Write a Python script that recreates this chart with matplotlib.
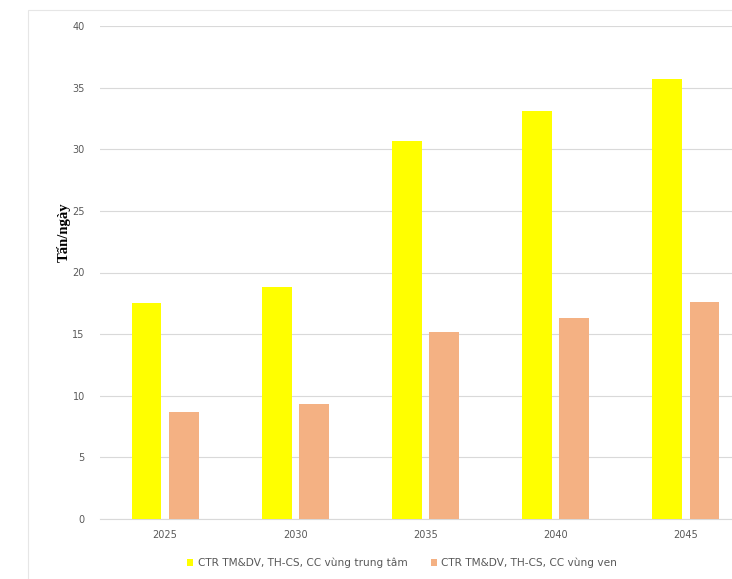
import matplotlib
matplotlib.use("Agg")
import matplotlib.pyplot as plt
import numpy as np
from matplotlib.patches import Rectangle

years = ["2025", "2030", "2035", "2040", "2045"]
central = [17.5, 18.8, 30.7, 33.1, 35.7]
suburban = [8.7, 9.3, 15.2, 16.3, 17.6]
series_names = ["CTR TM&DV, TH-CS, CC vùng trung tâm", "CTR TM&DV, TH-CS, CC vùng ven"]
yticks = [0, 5, 10, 15, 20, 25, 30, 35, 40]

fig = plt.figure(figsize=(7.32, 5.79), dpi=100)
fig.patch.set_facecolor("white")
# faint screenshot border
fig.add_artist(Rectangle((28/732, -0.01), 1.0, 1 - 10/579 + 0.01, transform=fig.transFigure,
                         fill=False, edgecolor="#E6E6E6", linewidth=0.8))

ax = fig.add_axes([100/732, 1 - 519/579, 651/732, (519 - 26)/579])
x = np.arange(len(years))
w = 0.23
off = 0.143
ax.bar(x - off, central, width=w, color="#FFFF00", label=series_names[0], zorder=3)
ax.bar(x + off, suburban, width=w, color="#F4B183", label=series_names[1], zorder=3)

ax.set_xlim(-0.5, len(years) - 0.5)
ax.set_ylim(0, 40)
ax.set_yticks(yticks)
ax.set_xticks(x)
ax.set_xticklabels(years)
ax.yaxis.grid(True, color="#D9D9D9", linewidth=0.8, zorder=0)
ax.set_axisbelow(True)
for s in ["top", "right", "left"]:
    ax.spines[s].set_visible(False)
ax.spines["bottom"].set_color("#D9D9D9")
ax.tick_params(axis="both", length=0, labelsize=7, labelcolor="#595959")
ax.tick_params(axis="y", pad=11)
ax.tick_params(axis="x", pad=8)

fig.text(64/732, 1 - 232/579, "Tấn/ngày", rotation=90, ha="center", va="center",
         fontsize=10.5, fontweight="bold", family="Liberation Serif", color="#000000")

fig.legend(loc="center", bbox_to_anchor=(402/732, 1 - 563/579), ncol=2, frameon=False,
           fontsize=7.6, labelcolor="#595959", handlelength=0.6, handleheight=0.6,
           handletextpad=0.4, columnspacing=2.2)

fig.savefig("out.png", dpi=100, facecolor="white")
